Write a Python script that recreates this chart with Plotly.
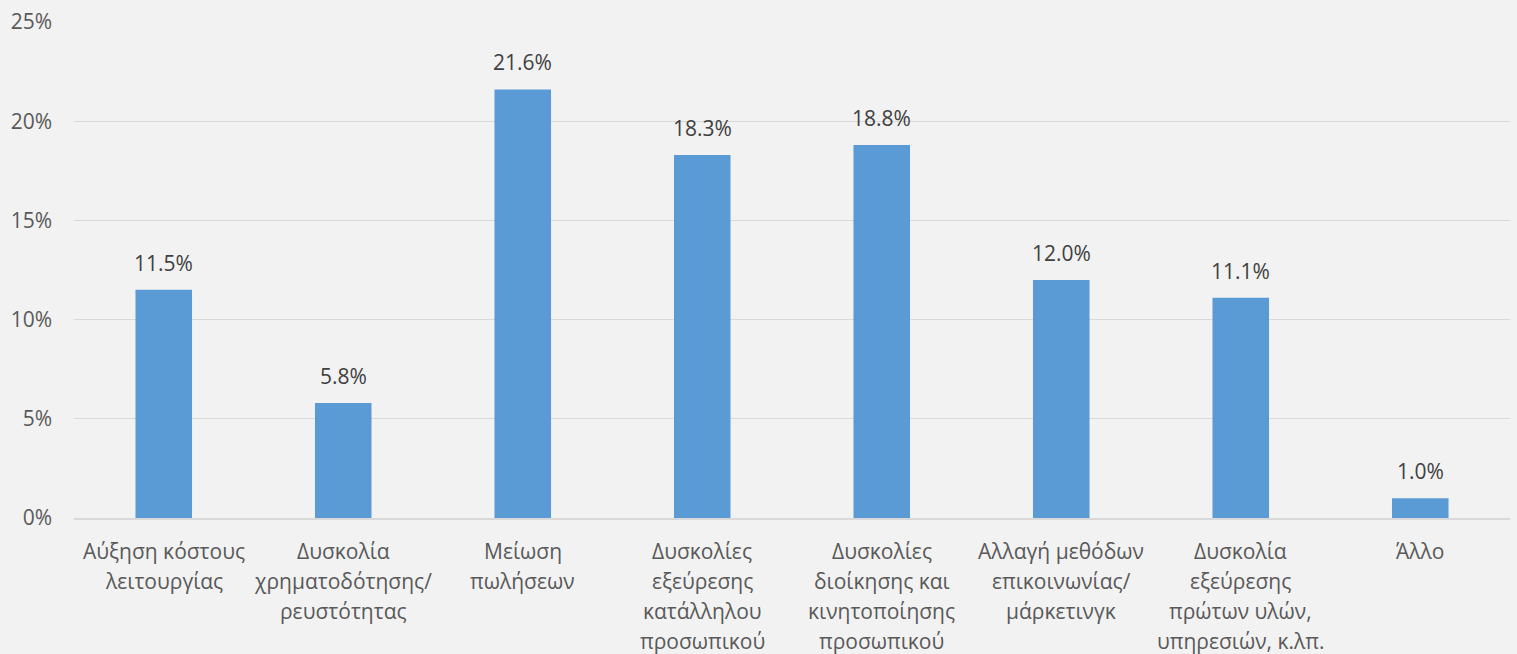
import plotly.graph_objects as go

# Survey categories (each entry is a list of label lines)
categories = [
    "Αύξηση κόστους λειτουργίας",
    "Δυσκολία χρηματοδότησης/ ρευστότητας",
    "Μείωση πωλήσεων",
    "Δυσκολίες εξεύρεσης κατάλληλου προσωπικού",
    "Δυσκολίες διοίκησης και κινητοποίησης προσωπικού",
    "Αλλαγή μεθόδων επικοινωνίας/ μάρκετινγκ",
    "Δυσκολία εξεύρεσης πρώτων υλών, υπηρεσιών, κ.λπ.",
    "Άλλο",
]
label_lines = [
    ["Αύξηση κόστους", "λειτουργίας"],
    ["Δυσκολία", "χρηματοδότησης/", "ρευστότητας"],
    ["Μείωση", "πωλήσεων"],
    ["Δυσκολίες", "εξεύρεσης", "κατάλληλου", "προσωπικού"],
    ["Δυσκολίες", "διοίκησης και", "κινητοποίησης", "προσωπικού"],
    ["Αλλαγή μεθόδων", "επικοινωνίας/", "μάρκετινγκ"],
    ["Δυσκολία", "εξεύρεσης", "πρώτων υλών,", "υπηρεσιών, κ.λπ."],
    ["Άλλο"],
]
values = [11.5, 5.8, 21.6, 18.3, 18.8, 12.0, 11.1, 1.0]
y_ticks = [0, 5, 10, 15, 20, 25]
y_tick_labels = ["0%", "5%", "10%", "15%", "20%", "25%"]

FONT = "Open Sans"
FONT_SIZE = 21
BAR_COLOR = "#5B9BD5"
GRID_COLOR = "#D9D9D9"
BG = "#F2F2F2"

fig = go.Figure(
    go.Bar(
        x=categories,
        y=values,
        marker=dict(color=BAR_COLOR, line=dict(width=0)),
        hoverinfo="skip",
    )
)

annotations = []
# Value labels above each bar
for cat, v in zip(categories, values):
    annotations.append(dict(
        x=cat, y=v, xref="x", yref="y",
        text=f"{v:.1f}%", showarrow=False,
        yanchor="bottom", yshift=11,
        font=dict(family=FONT, size=FONT_SIZE, color="#404040"),
    ))
# Multi-line category labels under the axis
LINE_STEP = 30
for cat, lines in zip(categories, label_lines):
    for i, line in enumerate(lines):
        annotations.append(dict(
            x=cat, y=0, xref="x", yref="paper",
            text=line, showarrow=False,
            yanchor="top", yshift=-17 - LINE_STEP * i,
            font=dict(family=FONT, size=FONT_SIZE, color="#595959"),
        ))

fig.update_layout(
    width=1517, height=654,
    margin=dict(l=74, r=7, t=22, b=136),
    paper_bgcolor=BG, plot_bgcolor=BG,
    bargap=0.685,
    showlegend=False,
    annotations=annotations,
    font=dict(family=FONT, color="#595959"),
)
fig.update_xaxes(
    showticklabels=False, showgrid=False,
    showline=True, linecolor=GRID_COLOR, linewidth=1.5,
    ticks="", fixedrange=True,
)
fig.update_yaxes(
    range=[0, 25], tickmode="array",
    tickvals=y_ticks, ticktext=y_tick_labels,
    showgrid=True, gridcolor=GRID_COLOR, gridwidth=1,
    zeroline=False, showline=False, ticks="",
    ticklabelstandoff=21,
    tickfont=dict(family=FONT, size=FONT_SIZE, color="#595959"),
    fixedrange=True,
)

fig.write_html("out.html")
